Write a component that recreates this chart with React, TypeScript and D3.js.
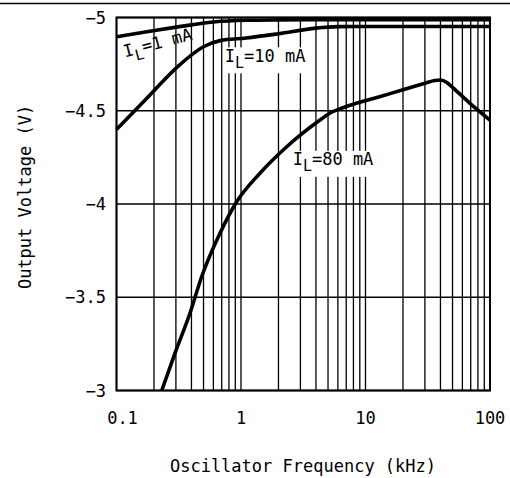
import * as React from "react";
import * as d3 from "d3";

// frequency in kHz, output voltage in V
const freq1mA = [0.1, 0.175, 0.32, 0.6, 1.1, 2, 5, 10, 30, 100];
const volt1mA = [-4.897, -4.924, -4.951, -4.976, -4.985, -4.987, -4.988, -4.988, -4.988, -4.988];

const freq10mA = [0.1, 0.17, 0.32, 0.5, 0.68, 1.1, 2, 4, 6, 10, 30, 100];
const volt10mA = [-4.4, -4.558, -4.745, -4.843, -4.876, -4.89, -4.913, -4.943, -4.951, -4.952, -4.952, -4.952];

const freq80mA = [0.231, 0.295, 0.389, 0.483, 0.678, 0.923, 1.42, 2.33, 4.31, 5.2, 6.5, 8, 13, 20, 30, 36, 40, 45, 50, 69, 100];
const volt80mA = [-3, -3.2, -3.414, -3.61, -3.843, -4.012, -4.165, -4.307, -4.45, -4.488, -4.515, -4.535, -4.575, -4.613, -4.647, -4.662, -4.665, -4.652, -4.625, -4.54, -4.45];

const xTickLabels = [0.1, 1, 10, 100];
const yTicks = [-3, -3.5, -4, -4.5, -5];

const W = 510;
const H = 478;
const FONT = "'DejaVu Sans Mono', monospace";

export default function App() {
  const x = d3.scaleLog().domain([0.1, 100]).range([116.5, 490]);
  const y = d3.scaleLinear().domain([-3, -5]).range([390.5, 17.5]);

  const line = d3
    .line<[number, number]>()
    .x((d) => x(d[0]))
    .y((d) => y(d[1]))
    .curve(d3.curveMonotoneX);

  const series = [
    { f: freq1mA, v: volt1mA },
    { f: freq10mA, v: volt10mA },
    { f: freq80mA, v: volt80mA },
  ];

  const fmt = (v: number) => String(v).replace("-", "\u2212");

  return (
    <svg
      width={W}
      height={H}
      style={{ position: "absolute", left: 0, top: 0, background: "#fff" }}
      fontFamily={FONT}
    >
      {/* page rule on top */}
      <line x1={0} x2={W} y1={3.5} y2={3.5} stroke="#000" strokeWidth={1.5} />

      {/* grid */}
      {x.ticks().map((t, i) => (
        <line key={"vx" + i} x1={x(t)} x2={x(t)} y1={y(-5)} y2={y(-3)} stroke="#000" strokeWidth={1.3} />
      ))}
      {yTicks.map((t, i) => (
        <line key={"hy" + i} x1={x(0.1)} x2={x(100)} y1={y(t)} y2={y(t)} stroke="#000" strokeWidth={1.3} />
      ))}
      <rect
        x={x(0.1)}
        y={y(-5)}
        width={x(100) - x(0.1)}
        height={y(-3) - y(-5)}
        fill="none"
        stroke="#000"
        strokeWidth={2}
      />

      {/* label backgrounds */}
      <rect x={x(0.77) - 2} y={y(-4.765) - 14} width={90} height={26} fill="#fff" />
      <rect x={x(2.7) - 2} y={y(-4.21) - 14} width={90} height={26} fill="#fff" />

      {/* curves */}
      {series.map((s, i) => (
        <path
          key={"s" + i}
          d={line(s.f.map((f, j) => [f, s.v[j]] as [number, number])) || ""}
          fill="none"
          stroke="#000"
          strokeWidth={3.6}
          strokeLinejoin="round"
        />
      ))}

      {/* y tick labels */}
      {yTicks.map((t, i) => (
        <text key={"yl" + i} x={106} y={y(t) + 6} textAnchor="end" fontSize={17}>
          {fmt(t)}
        </text>
      ))}

      {/* x tick labels */}
      {xTickLabels.map((t, i) => (
        <text key={"xl" + i} x={x(t) + (i === 0 ? 6 : 0)} y={423.5} textAnchor="middle" fontSize={17}>
          {String(t)}
        </text>
      ))}

      {/* axis titles */}
      <text x={303} y={472} textAnchor="middle" fontSize={17}>
        Oscillator Frequency (kHz)
      </text>
      <text transform={`translate(31, 197) rotate(-90)`} textAnchor="middle" fontSize={17}>
        Output Voltage (V)
      </text>

      {/* curve labels */}
      <g transform={`translate(${x(0.117)}, ${y(-4.785)}) rotate(-15)`}>
        <text x={0} y={0} fontSize={17}>
          I<tspan dy={6} fontSize={15}>L</tspan>
          <tspan dy={-6}>=1 mA</tspan>
        </text>
      </g>
      <text x={x(0.74)} y={y(-4.763)} fontSize={17}>
        I<tspan dy={6} fontSize={15}>L</tspan>
        <tspan dy={-6}>=10 mA</tspan>
      </text>
      <text x={x(2.6)} y={y(-4.21)} fontSize={17}>
        I<tspan dy={6} fontSize={15}>L</tspan>
        <tspan dy={-6}>=80 mA</tspan>
      </text>
    </svg>
  );
}
